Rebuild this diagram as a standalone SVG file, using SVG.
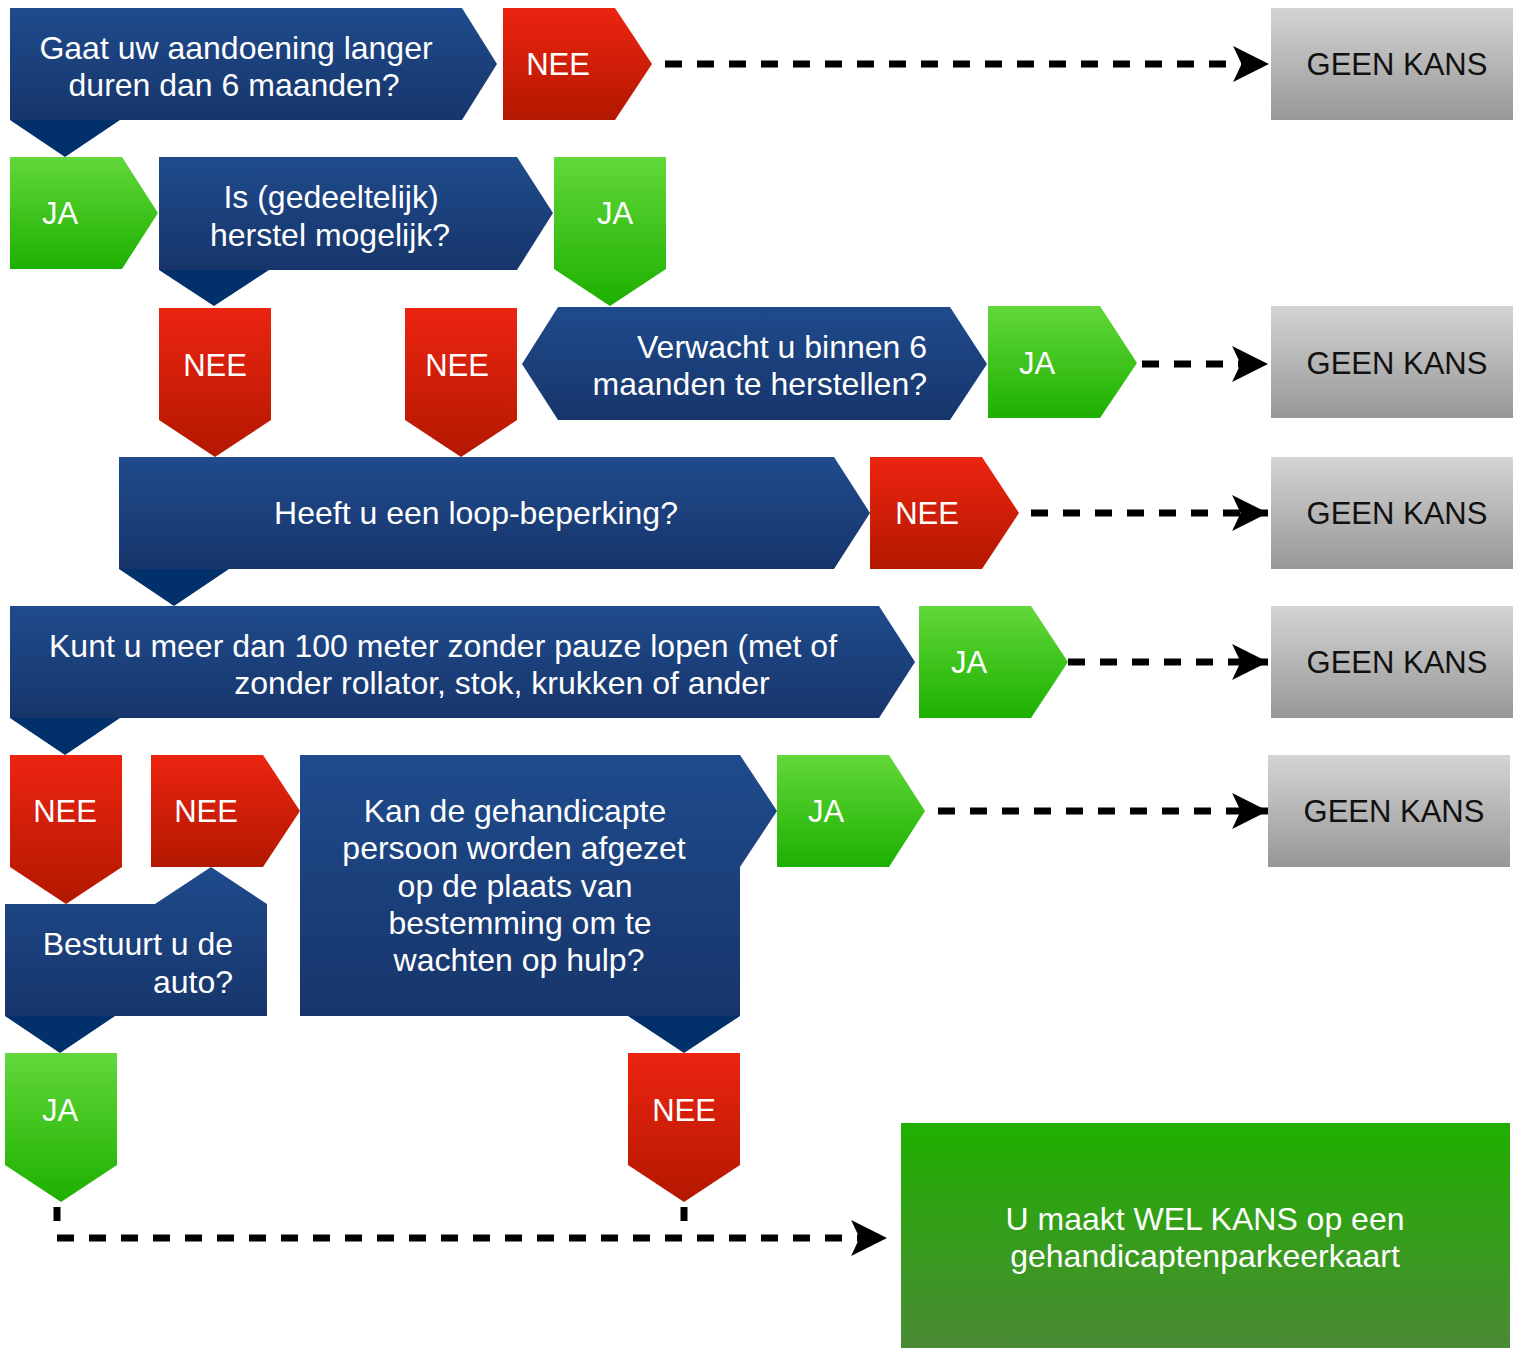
<svg xmlns="http://www.w3.org/2000/svg" width="1522" height="1348" viewBox="0 0 1522 1348">
<style>
text{font-family:"Liberation Sans",Arial,sans-serif;fill:#fff;text-anchor:middle}
.q{font-size:32px}
.l{font-size:31px}
.g{font-size:31px;fill:#111}
.blue{fill:url(#gBlue)}
.red{fill:url(#gRed)}
.green{fill:url(#gGreen)}
.gray{fill:url(#gGray)}
.notch{fill:#02306a}
.dash{fill:none;stroke:#000;stroke-width:7;stroke-dasharray:17 15}
</style>
<defs>
<linearGradient id="gBlue" x1="0" y1="0" x2="0" y2="1"><stop offset="0" stop-color="#1f4b8c"/><stop offset="1" stop-color="#17356b"/></linearGradient>
<linearGradient id="gRed" x1="0" y1="0" x2="0" y2="1"><stop offset="0" stop-color="#ec2410"/><stop offset="1" stop-color="#b31800"/></linearGradient>
<linearGradient id="gGreen" x1="0" y1="0" x2="0" y2="1"><stop offset="0" stop-color="#62d83a"/><stop offset="1" stop-color="#1db000"/></linearGradient>
<linearGradient id="gGray" x1="0" y1="0" x2="0" y2="1"><stop offset="0" stop-color="#d4d4d4"/><stop offset="1" stop-color="#979797"/></linearGradient>
<linearGradient id="gFinal" x1="0" y1="0" x2="0" y2="1"><stop offset="0" stop-color="#20b000"/><stop offset="1" stop-color="#4a8a35"/></linearGradient>
<marker id="arr" markerUnits="userSpaceOnUse" markerWidth="38" markerHeight="38" refX="34" refY="17" orient="auto" viewBox="0 0 36 36">
<path d="M0,0 L34,17 L0,34 L8,17 Z" fill="#000"/>
</marker>
</defs>

<g id="connectors">
<path class="dash" d="M665,64 H1269" marker-end="url(#arr)"/>
<path class="dash" d="M1142,364 H1268" marker-end="url(#arr)"/>
<path class="dash" d="M1031,513 H1268" marker-end="url(#arr)"/>
<path class="dash" d="M1068,662 H1268" marker-end="url(#arr)"/>
<path class="dash" d="M938,811 H1268" marker-end="url(#arr)"/>
<path class="dash" d="M57,1207 V1221"/>
<path class="dash" d="M684,1207 V1221"/>
<path class="dash" d="M57,1238 H887" marker-end="url(#arr)"/>
</g>

<g id="q1">
<path class="blue" d="M10,8 H462 L497,64 L462,120 H10 Z"/>
<path class="notch" d="M10,120 H120 L65,157 Z"/>
<text class="q" x="236" y="59">Gaat uw aandoening langer</text>
<text class="q" x="234" y="96">duren dan 6 maanden?</text>
</g>
<g id="nee1">
<path class="red" d="M503,8 H615 L652,64 L615,120 H503 Z"/>
<text class="l" x="558" y="75">NEE</text>
</g>
<g id="geen1">
<rect class="gray" x="1271" y="8" width="242" height="112"/>
<text class="g" x="1397" y="75">GEEN KANS</text>
</g>

<g id="ja1">
<path class="green" d="M10,157 H122 L158,213 L122,269 H10 Z"/>
<text class="l" x="60" y="224">JA</text>
</g>
<g id="q2">
<path class="blue" d="M159,157 H517 L553,213 L517,270 H159 Z"/>
<path class="notch" d="M159,270 H269 L214,306 Z"/>
<text class="q" x="331" y="208">Is (gedeeltelijk)</text>
<text class="q" x="330" y="246">herstel mogelijk?</text>
</g>
<g id="ja2">
<path class="green" d="M554,157 H666 V269 L610,306 L554,269 Z"/>
<text class="l" x="615" y="224">JA</text>
</g>

<g id="nee2">
<path class="red" d="M159,308 H271 V420 L215,457 L159,420 Z"/>
<text class="l" x="215" y="376">NEE</text>
</g>
<g id="nee3">
<path class="red" d="M405,308 H517 V420 L461,457 L405,420 Z"/>
<text class="l" x="457" y="376">NEE</text>
</g>
<g id="q3">
<path class="blue" d="M558,307 H950 L987,364 L950,420 H558 L522,364 Z"/>
<text class="q" x="927" y="358" style="text-anchor:end">Verwacht u binnen 6</text>
<text class="q" x="927" y="395" style="text-anchor:end">maanden te herstellen?</text>
</g>
<g id="ja3">
<path class="green" d="M988,306 H1100 L1137,363 L1100,418 H988 Z"/>
<text class="l" x="1037" y="374">JA</text>
</g>
<g id="geen2">
<rect class="gray" x="1271" y="306" width="242" height="112"/>
<text class="g" x="1397" y="374">GEEN KANS</text>
</g>

<g id="q4">
<path class="blue" d="M119,457 H834 L870,513 L834,569 H119 Z"/>
<path class="notch" d="M119,569 H229 L174,606 Z"/>
<text class="q" x="476" y="524">Heeft u een loop-beperking?</text>
</g>
<g id="nee4">
<path class="red" d="M870,457 H982 L1019,513 L982,569 H870 Z"/>
<text class="l" x="927" y="524">NEE</text>
</g>
<g id="geen3">
<rect class="gray" x="1271" y="457" width="242" height="112"/>
<text class="g" x="1397" y="524">GEEN KANS</text>
</g>

<g id="q5">
<path class="blue" d="M10,606 H879 L915,662 L879,718 H10 Z"/>
<path class="notch" d="M10,718 H120 L65,755 Z"/>
<text class="q" x="443" y="657">Kunt u meer dan 100 meter zonder pauze lopen (met of</text>
<text class="q" x="502" y="694">zonder rollator, stok, krukken of ander</text>
</g>
<g id="ja4">
<path class="green" d="M919,606 H1031 L1068,662 L1031,718 H919 Z"/>
<text class="l" x="969" y="673">JA</text>
</g>
<g id="geen4">
<rect class="gray" x="1271" y="606" width="242" height="112"/>
<text class="g" x="1397" y="673">GEEN KANS</text>
</g>

<g id="nee5">
<path class="red" d="M10,755 H122 V867 L66,904 L10,867 Z"/>
<text class="l" x="65" y="822">NEE</text>
</g>
<g id="nee6">
<path class="red" d="M151,755 H263 L300,811 L263,867 H151 Z"/>
<text class="l" x="206" y="822">NEE</text>
</g>
<g id="q6">
<path class="blue" d="M300,755 H740 L777,811 L740,867 V1016 H300 Z"/>
<path class="notch" d="M628,1016 H740 L684,1053 Z"/>
<text class="q" x="515" y="822">Kan de gehandicapte</text>
<text class="q" x="514" y="859">persoon worden afgezet</text>
<text class="q" x="515" y="897">op de plaats van</text>
<text class="q" x="520" y="934">bestemming om te</text>
<text class="q" x="519" y="971">wachten op hulp?</text>
</g>
<g id="ja5">
<path class="green" d="M777,755 H889 L925,811 L889,867 H777 Z"/>
<text class="l" x="826" y="822">JA</text>
</g>
<g id="geen5">
<rect class="gray" x="1268" y="755" width="242" height="112"/>
<text class="g" x="1394" y="822">GEEN KANS</text>
</g>

<g id="q7">
<path class="blue" d="M5,904 H155 L211,867 L267,904 V1016 H5 Z"/>
<path class="notch" d="M5,1016 H115 L60,1053 Z"/>
<text class="q" x="233" y="955" style="text-anchor:end">Bestuurt u de</text>
<text class="q" x="233" y="993" style="text-anchor:end">auto?</text>
</g>
<g id="ja6">
<path class="green" d="M5,1053 H117 V1165 L61,1202 L5,1165 Z"/>
<text class="l" x="60" y="1121">JA</text>
</g>
<g id="nee7">
<path class="red" d="M628,1053 H740 V1165 L684,1202 L628,1165 Z"/>
<text class="l" x="684" y="1121">NEE</text>
</g>

<g id="result">
<rect x="901" y="1123" width="609" height="225" fill="url(#gFinal)"/>
<text class="q" x="1205" y="1230">U maakt WEL KANS op een</text>
<text class="q" x="1205" y="1267">gehandicaptenparkeerkaart</text>
</g>
</svg>
